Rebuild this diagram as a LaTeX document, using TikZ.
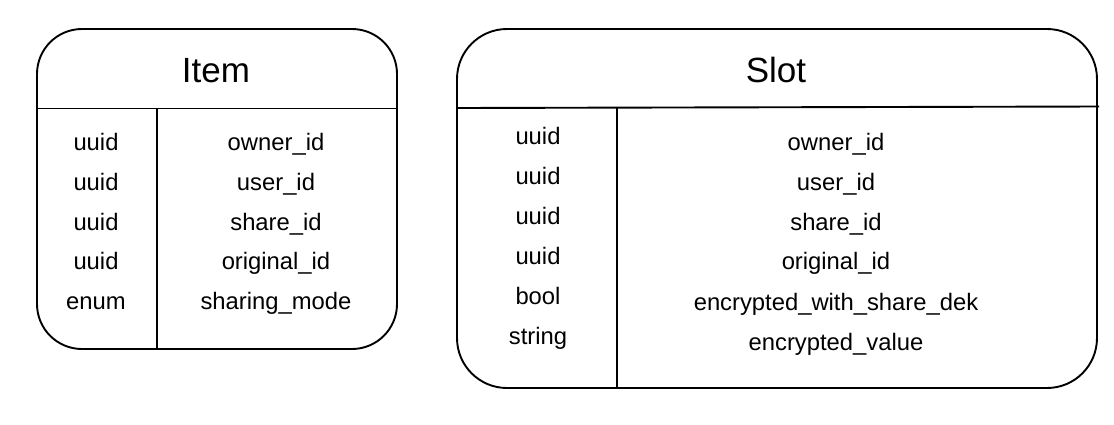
\documentclass[tikz,border=0pt]{standalone}
\usepackage{fontspec}
\setmainfont{Liberation Sans}
\begin{document}
\begin{tikzpicture}[x=1pt,y=-1pt,
  frame/.style={draw=black,line width=1.9pt,rounded corners=#1},
  rule/.style={draw=black,line width=1.9pt},
  title/.style={anchor=base,inner sep=0pt,font=\fontsize{35}{40}\selectfont},
  cell/.style={anchor=base,inner sep=0pt,font=\fontsize{23.8}{28}\selectfont}]
\useasboundingbox[fill=white] (0,0) rectangle (1114,424);
% ---- Item ----
\coordinate (iTL) at (37,29);
\coordinate (iBR) at (397,349);
\draw[frame=45pt] (iTL) rectangle (iBR);
\coordinate (ihl) at (37,108.5);
\coordinate (ihr) at (397,108.5);
\coordinate (idt) at (157,108.5);
\coordinate (idb) at (157,349);
\draw[rule] (ihl) -- (ihr);
\draw[rule] (idt) -- (idb);
\node[title] (ititle) at (216,82) {Item};
\node[cell] (it1) at (96,150.5) {uuid};
\node[cell] (it2) at (96,190.3) {uuid};
\node[cell] (it3) at (96,230) {uuid};
\node[cell] (it4) at (96,269.8) {uuid};
\node[cell] (it5) at (96,309.5) {enum};
\node[cell] (in1) at (276,150.5) {owner\_id};
\node[cell] (in2) at (276,190.3) {user\_id};
\node[cell] (in3) at (276,230) {share\_id};
\node[cell] (in4) at (276,269.8) {original\_id};
\node[cell] (in5) at (276,309.5) {sharing\_mode};
% ---- Slot ----
\coordinate (sTL) at (457,29);
\coordinate (sBR) at (1097,388);
\draw[frame=50pt] (sTL) rectangle (sBR);
\coordinate (shl) at (457,108);
\coordinate (shr) at (1099,106.5);
\coordinate (sdt) at (617,108);
\coordinate (sdb) at (617,388);
\draw[rule] (shl) -- (shr);
\draw[rule] (sdt) -- (sdb);
\node[title] (stitle) at (776,82) {Slot};
\node[cell] (st1) at (538,144) {uuid};
\node[cell] (st2) at (538,184) {uuid};
\node[cell] (st3) at (538,224) {uuid};
\node[cell] (st4) at (538,264) {uuid};
\node[cell] (st5) at (538,304) {bool};
\node[cell] (st6) at (538,344) {string};
\node[cell] (sn1) at (836,150) {owner\_id};
\node[cell] (sn2) at (836,190) {user\_id};
\node[cell] (sn3) at (836,230) {share\_id};
\node[cell] (sn4) at (836,269.5) {original\_id};
\node[cell] (sn5) at (836,310) {encrypted\_with\_share\_dek};
\node[cell] (sn6) at (836,350) {encrypted\_value};
\end{tikzpicture}
\end{document}
